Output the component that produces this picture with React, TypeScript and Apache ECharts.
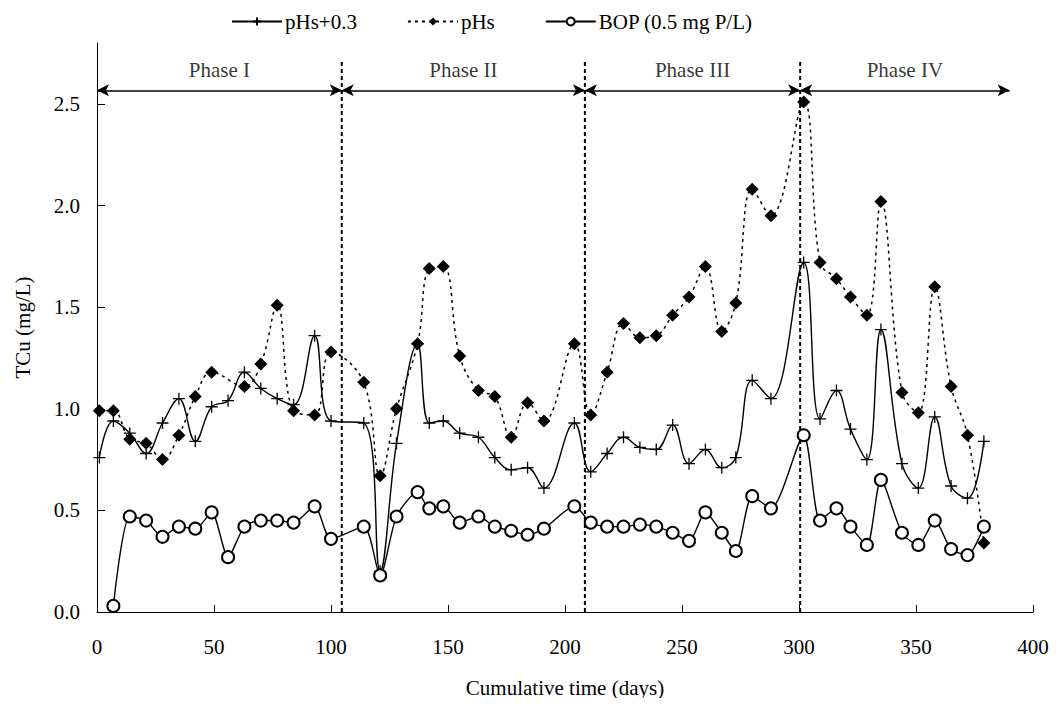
import React, { useEffect, useRef } from "react";
import * as echarts from "echarts";

const days = [1, 7, 14, 21, 28, 35, 42, 49, 56, 63, 70, 77, 84, 93, 100, 114, 121, 128, 137, 142, 148, 155, 163, 170, 177, 184, 191, 204, 211, 218, 225, 232, 239, 246, 253, 260, 267, 273, 280, 288, 302, 309, 316, 322, 329, 335, 344, 351, 358, 365, 372, 379];

const pHsPlus03 = [0.76, 0.94, 0.88, 0.78, 0.93, 1.05, 0.84, 1.01, 1.04, 1.18, 1.10, 1.05, 1.02, 1.36, 0.94,
  0.93, 0.20, 0.83, 1.32, 0.93, 0.94, 0.88, 0.86, 0.76, 0.70, 0.71, 0.61, 0.93, 0.69,
  0.78, 0.86, 0.81, 0.80, 0.92, 0.73, 0.80, 0.71, 0.76, 1.14, 1.05, 1.72,
  0.95, 1.09, 0.90, 0.75, 1.39, 0.73, 0.61, 0.96, 0.62, 0.56, 0.84];

const pHs = [0.99, 0.99, 0.85, 0.83, 0.75, 0.87, 1.06, 1.18, null, 1.11, 1.22, 1.51, 0.99, 0.97, 1.28,
  1.13, 0.67, 1.00, 1.32, 1.69, 1.70, 1.26, 1.09, 1.06, 0.86, 1.03, 0.94, 1.32, 0.97,
  1.18, 1.42, 1.35, 1.36, 1.46, 1.55, 1.70, 1.38, 1.52, 2.08, 1.95, 2.51,
  1.72, 1.64, 1.55, 1.46, 2.02, 1.08, 0.98, 1.60, 1.11, 0.87, 0.34];

const bop = [null, 0.03, 0.47, 0.45, 0.37, 0.42, 0.41, 0.49, 0.27, 0.42, 0.45, 0.45, 0.44, 0.52, 0.36,
  0.42, 0.18, 0.47, 0.59, 0.51, 0.52, 0.44, 0.47, 0.42, 0.40, 0.38, 0.41, 0.52, 0.44,
  0.42, 0.42, 0.43, 0.42, 0.39, 0.35, 0.49, 0.39, 0.30, 0.57, 0.51, 0.87,
  0.45, 0.51, 0.42, 0.33, 0.65, 0.39, 0.33, 0.45, 0.31, 0.28, 0.42];

const seriesNames = ["pHs+0.3", "pHs", "BOP (0.5 mg P/L)"];
const phaseNames = ["Phase I", "Phase II", "Phase III", "Phase IV"];
const phaseBounds = [0, 104.6, 208.5, 300.5, 390];
const phaseDividers = [104.6, 208.5, 300.5];
const xTicks = [0, 50, 100, 150, 200, 250, 300, 350, 400];
const yTicks = [0, 0.5, 1.0, 1.5, 2.0, 2.5];

const FONT = "'Liberation Serif', 'Times New Roman', serif";

function pairs(xs: number[], ys: (number | null)[]) {
  const out: number[][] = [];
  xs.forEach((x, i) => {
    const y = ys[i];
    if (y !== null && y !== undefined) out.push([x, y]);
  });
  return out;
}

export default function App() {
  const ref = useRef<HTMLDivElement>(null);
  useEffect(() => {
    if (!ref.current) return;
    const chart = echarts.init(ref.current, null, { renderer: "svg" });
    const arrowY = 2.567;
    const labelY = 2.665;
    const dividerTop = 2.71;

    const option: any = {
      animation: false,
      backgroundColor: "#fff",
      textStyle: { fontFamily: FONT, color: "#000" },
      legend: {
        data: seriesNames,
        left: 226,
        top: 6,
        itemWidth: 50,
        itemHeight: 10,
        itemGap: 50,
        textStyle: { fontFamily: FONT, fontSize: 21, color: "#000", padding: [0, 0, 0, -2] },
      },
      grid: { left: 97, right: 25, top: 43, bottom: 94 },
      xAxis: {
        type: "value",
        min: 0,
        max: 400,
        interval: 50,
        name: "Cumulative time (days)",
        nameLocation: "middle",
        nameGap: 65,
        nameTextStyle: { fontFamily: FONT, fontSize: 21, color: "#000" },
        axisLine: { show: true, onZero: false, lineStyle: { color: "#000", width: 1 } },
        axisTick: { show: true, inside: true, length: 7, lineStyle: { color: "#000" }, customValues: xTicks },
        axisLabel: { fontFamily: FONT, fontSize: 21, color: "#000", margin: 24, customValues: xTicks },
        splitLine: { show: false },
      },
      yAxis: {
        type: "value",
        min: 0,
        max: 2.8,
        interval: 0.5,
        name: "TCu (mg/L)",
        nameLocation: "middle",
        nameGap: 64,
        nameRotate: 90,
        nameTextStyle: { fontFamily: FONT, fontSize: 21, color: "#000" },
        axisLine: { show: true, lineStyle: { color: "#000", width: 1 } },
        axisTick: { show: true, inside: true, length: 8, lineStyle: { color: "#000" }, customValues: yTicks },
        axisLabel: {
          fontFamily: FONT,
          fontSize: 21,
          color: "#000",
          margin: 17,
          customValues: yTicks,
          formatter: (v: number) => v.toFixed(1),
        },
        splitLine: { show: false },
      },
      series: [
        {
          name: seriesNames[0],
          type: "line",
          data: pairs(days, pHsPlus03),
          smooth: 0.4,
          symbol: "path://M5,0L5,10M0,5L10,5",
          symbolSize: 12,
          lineStyle: { color: "#000", width: 1.4, type: "solid" },
          itemStyle: { color: "none", borderColor: "#000", borderWidth: 1.3 },
          z: 4,
        },
        {
          name: seriesNames[1],
          type: "line",
          data: pairs(days, pHs),
          smooth: 0.4,
          symbol: "diamond",
          symbolSize: 13,
          lineStyle: { color: "#000", width: 1.5, type: [3, 4] },
          itemStyle: { color: "#000", borderWidth: 0 },
          z: 3,
        },
        {
          name: seriesNames[2],
          type: "line",
          data: pairs(days, bop),
          smooth: 0.25,
          symbol: "emptyCircle",
          symbolSize: 12,
          lineStyle: { color: "#000", width: 1.4, type: "solid" },
          itemStyle: { color: "#000", borderColor: "#000", borderWidth: 1.2 },
          z: 5,
        },
        ...phaseDividers.map((d) => ({
          type: "line",
          data: [[d, 0], [d, dividerTop]],
          symbol: "none",
          lineStyle: { color: "#000", width: 2, type: [4, 3] },
          silent: true,
          z: 2,
        })),
        {
          type: "line",
          data: [],
          symbol: "none",
          silent: true,
          markLine: {
            silent: true,
            symbol: ["arrow", "arrow"],
            symbolSize: [9, 12],
            label: { show: false },
            lineStyle: { color: "#000", width: 1.5, type: "solid" },
            data: phaseNames.map((_, i) => [
              { coord: [phaseBounds[i], arrowY] },
              { coord: [phaseBounds[i + 1], arrowY] },
            ]),
          },
        },
        {
          type: "scatter",
          symbolSize: 0,
          silent: true,
          data: phaseNames.map((n, i) => [(phaseBounds[i] + phaseBounds[i + 1]) / 2, labelY, n]),
          label: {
            show: true,
            position: "inside",
            formatter: (p: any) => p.value[2],
            fontFamily: FONT,
            fontSize: 21,
            color: "#000",
          },
        },
      ],
    };
    chart.setOption(option);
    return () => chart.dispose();
  }, []);
  return <div ref={ref} style={{ width: 1058, height: 706, margin: -8 }} />;
}
